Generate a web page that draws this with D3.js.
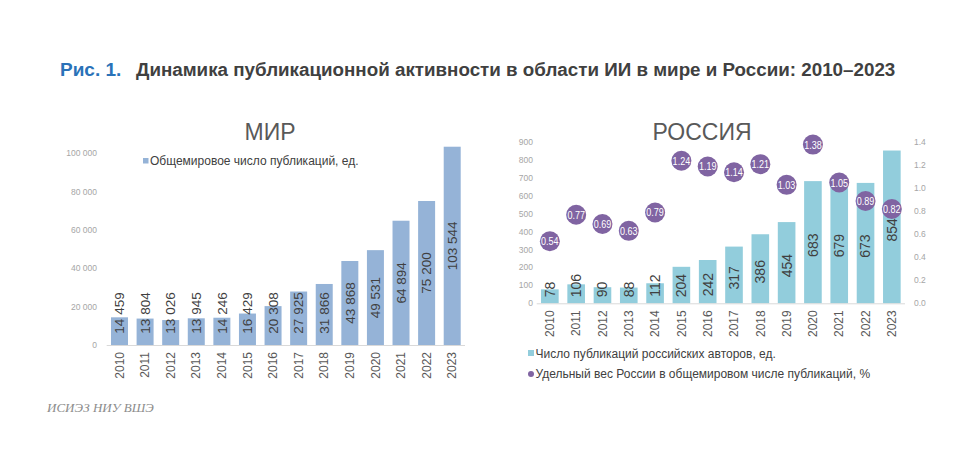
<!DOCTYPE html>
<html><head><meta charset="utf-8">
<script src="https://cdn.jsdelivr.net/npm/d3@7"></script>
<style>
html,body{margin:0;padding:0;background:#fff;}
svg{display:block;font-family:Arial,"Liberation Sans",sans-serif;}
</style></head>
<body>
<svg id="c" width="972" height="469"></svg>
<script>
const years = ["2010","2011","2012","2013","2014","2015","2016","2017","2018","2019","2020","2021","2022","2023"];
const worldPubs = [14459,13804,13026,13945,14246,16429,20308,27925,31866,43868,49531,64894,75200,103544];
const ruPubs = [78,106,90,88,112,204,242,317,386,454,683,679,673,854];
const ruShare = [0.54,0.77,0.69,0.63,0.79,1.24,1.19,1.14,1.21,1.03,1.38,1.05,0.89,0.82];
const worldTicks = [0,20000,40000,60000,80000,100000];
const ruTicksL = [0,100,200,300,400,500,600,700,800,900];
const ruTicksR = [0,0.2,0.4,0.6,0.8,1.0,1.2,1.4];

const svg = d3.select("#c");
const gray = "#a6a6a6", dark = "#404040", mid = "#595959";
const fmtSp = v => d3.format(",")(v).replace(/,/g, " ");

// Title
svg.append("text").attr("x",60).attr("y",76).attr("font-size",19).attr("font-weight","bold")
  .attr("fill","#2a72b8").text("Рис. 1.");
svg.append("text").attr("x",136).attr("y",76).attr("font-size",18.8).attr("font-weight","bold")
  .attr("fill",dark).text("Динамика публикационной активности в области ИИ в мире и России: 2010–2023");

// ---------- Left: world ----------
{
  const x = d3.scaleBand().domain(years).range([106.7,465]).paddingInner(0.336).paddingOuter(0.168);
  const y = d3.scaleLinear().domain([0,100000]).range([345,153.5]);
  const g = svg.append("g");
  g.append("text").attr("x",270).attr("y",140).attr("text-anchor","middle").attr("font-size",23)
    .attr("fill",mid).text("МИР");
  g.selectAll(".yt").data(worldTicks).join("text")
    .attr("x",97).attr("y",d=>y(d)).attr("dy","0.35em").attr("text-anchor","end")
    .attr("font-size",8.5).attr("fill",gray).text(d=>fmtSp(d));
  g.selectAll("rect").data(worldPubs).join("rect")
    .attr("x",(d,i)=>x(years[i])).attr("width",x.bandwidth())
    .attr("y",d=>y(d)).attr("height",d=>y(0)-y(d)).attr("fill","#95b3d7");
  g.append("line").attr("x1",106.7).attr("x2",465).attr("y1",y(0)+0.5).attr("y2",y(0)+0.5)
    .attr("stroke","#d9d9d9").attr("stroke-width",1);
  g.selectAll(".bl").data(worldPubs).join("text")
    .attr("transform",(d,i)=>{
      const cx = x(years[i])+x.bandwidth()/2;
      const cy = Math.min((y(d)+y(0))/2, y(0)-32);
      return `translate(${cx},${cy}) rotate(-90)`;
    })
    .attr("text-anchor","middle").attr("dy","0.35em").attr("font-size",13.5).attr("fill",dark)
    .text(d=>fmtSp(d));
  g.selectAll(".yr").data(years).join("text")
    .attr("transform",d=>`translate(${x(d)+x.bandwidth()/2},${y(0)+7}) rotate(-90)`)
    .attr("text-anchor","end").attr("dy","0.35em").attr("font-size",12).attr("fill",mid).text(d=>d);
  g.append("rect").attr("x",143).attr("y",158).attr("width",5.5).attr("height",5.5).attr("fill","#95b3d7");
  g.append("text").attr("x",150).attr("y",165).attr("font-size",12).attr("fill",dark)
    .text("Общемировое число публикаций, ед.");
}

// ---------- Right: Russia ----------
{
  const x = d3.scaleBand().domain(years).range([536.7,905]).paddingInner(0.33).paddingOuter(0.165);
  const yL = d3.scaleLinear().domain([0,900]).range([303.3,142.3]);
  const yR = d3.scaleLinear().domain([0,1.4]).range([303.3,142.3]);
  const g = svg.append("g");
  g.append("text").attr("x",702).attr("y",140).attr("text-anchor","middle").attr("font-size",23)
    .attr("fill",mid).text("РОССИЯ");
  g.selectAll(".yl").data(ruTicksL).join("text")
    .attr("x",533).attr("y",d=>yL(d)).attr("dy","0.35em").attr("text-anchor","end")
    .attr("font-size",8.5).attr("fill",gray).text(d=>d);
  g.selectAll(".yr2").data(ruTicksR).join("text")
    .attr("x",914).attr("y",d=>yR(d)).attr("dy","0.35em").attr("text-anchor","start")
    .attr("font-size",8.5).attr("fill",gray).text(d=>d3.format(".1f")(d));
  g.selectAll("rect.b").data(ruPubs).join("rect").attr("class","b")
    .attr("x",(d,i)=>x(years[i])).attr("width",x.bandwidth())
    .attr("y",d=>yL(d)).attr("height",d=>yL(0)-yL(d)).attr("fill","#92cddc");
  g.append("line").attr("x1",536.7).attr("x2",905).attr("y1",yL(0)+0.5).attr("y2",yL(0)+0.5)
    .attr("stroke","#d9d9d9").attr("stroke-width",1);
  g.selectAll(".bl").data(ruPubs).join("text")
    .attr("transform",(d,i)=>{
      const cx = x(years[i])+x.bandwidth()/2;
      const len = String(d).length*7.8;
      const cy = Math.min((yL(d)+yL(0))/2+3, yL(0)-6-len/2);
      return `translate(${cx},${cy}) rotate(-90)`;
    })
    .attr("text-anchor","middle").attr("dy","0.35em").attr("font-size",14).attr("fill",dark)
    .text(d=>d);
  g.selectAll("circle.d").data(ruShare).join("circle").attr("class","d")
    .attr("cx",(d,i)=>x(years[i])+x.bandwidth()/2).attr("cy",d=>yR(d)).attr("r",10)
    .attr("fill","#8064a2");
  g.selectAll(".dl").data(ruShare).join("text")
    .attr("transform",(d,i)=>`translate(${x(years[i])+x.bandwidth()/2},${yR(d)}) scale(0.82,1)`)
    .attr("dy","0.36em")
    .attr("text-anchor","middle").attr("font-size",11).attr("fill","#fff")
    .text(d=>d3.format(".2f")(d));
  g.selectAll(".yr").data(years).join("text")
    .attr("transform",d=>`translate(${x(d)+x.bandwidth()/2},${yL(0)+7}) rotate(-90)`)
    .attr("text-anchor","end").attr("dy","0.35em").attr("font-size",12).attr("fill",mid).text(d=>d);
  g.append("rect").attr("x",528).attr("y",350).attr("width",6).attr("height",6).attr("fill","#92cddc");
  g.append("text").attr("x",535.5).attr("y",358).attr("font-size",12).attr("fill",dark)
    .text("Число публикаций российских авторов, ед.");
  g.append("circle").attr("cx",531).attr("cy",374).attr("r",3).attr("fill","#8064a2");
  g.append("text").attr("x",535.5).attr("y",378).attr("font-size",12).attr("fill",dark)
    .text("Удельный вес России в общемировом числе публикаций, %");
}

svg.append("text").attr("x",47).attr("y",412).attr("font-size",13).attr("font-style","italic")
  .attr("font-family","'Liberation Serif','DejaVu Serif',serif").attr("fill","#8c8c8c")
  .text("ИСИЭЗ НИУ ВШЭ");
</script>
</body></html>
